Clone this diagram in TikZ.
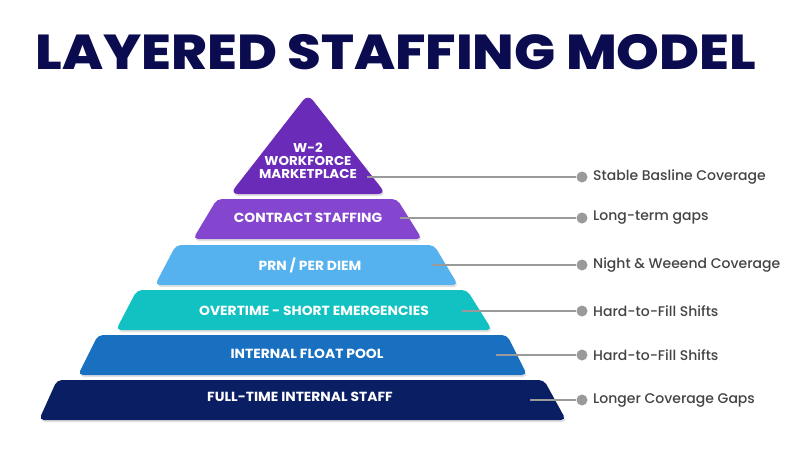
\documentclass[tikz,border=0pt]{standalone}
\usepackage{fontspec}
\setmainfont{Poppins}
\newfontfamily\titlefont{Poppins ExtraBold}
\newfontfamily\layerfont{Poppins Bold}[FakeStretch=1.05]
\newfontfamily\labelfont{Poppins Medium}
\definecolor{titlecol}{HTML}{0B0B4F}
\definecolor{cW}{HTML}{6A2CB8}
\definecolor{cC}{HTML}{8445CF}
\definecolor{cP}{HTML}{56B2EE}
\definecolor{cO}{HTML}{12C2C2}
\definecolor{cF}{HTML}{1A70C0}
\definecolor{cT}{HTML}{0A1E63}
\definecolor{conncol}{HTML}{9A9A9A}
\definecolor{labcol}{HTML}{444444}
\tikzset{
  layertext/.style={text=white, font=\layerfont\fontsize{13.2}{11.5}\selectfont, inner sep=0pt, align=center},
  dot/.style={circle, fill=conncol, minimum size=11pt, inner sep=0pt},
  conn/.style={draw=conncol, line width=2.5pt},
  sidelabel/.style={text=labcol, font=\labelfont\fontsize{14}{14}\selectfont, anchor=west, inner sep=0pt},
  layer/.style={rounded corners=5pt},
  shade/.style={fill=black, opacity=0.12}
}
\begin{document}
\begin{tikzpicture}[x=1pt, y=-1pt]
\useasboundingbox (0,0) rectangle (800,450);
% title
\node[anchor=base, inner sep=0pt, text=titlecol, font=\titlefont\fontsize{49}{49}\selectfont] (title) at (396,69) {\scalebox{1.11}[1]{LAYERED STAFFING MODEL}};
% shadows
\begin{scope}[shift={(1,2)}]
\fill[shade, rounded corners=8pt] (230,194) -- (308,94) -- (386,194) -- cycle;
\fill[shade, layer] (193,239) -- (217,199) -- (397,199) -- (422,239) -- cycle;
\fill[shade, layer] (155,285) -- (176,245) -- (434,245) -- (458,285) -- cycle;
\fill[shade, layer] (116,330) -- (137,290) -- (467,290) -- (492,330) -- cycle;
\fill[shade, layer] (78,375) -- (98,335) -- (507,335) -- (527,375) -- cycle;
\fill[shade, layer] (39,420) -- (57,380) -- (544,380) -- (566,420) -- cycle;
\end{scope}
% layers
\fill[cW, rounded corners=8pt] (230,194) -- (308,94) -- (386,194) -- cycle;
\fill[cC, layer] (193,239) -- (217,199) -- (397,199) -- (422,239) -- cycle;
\fill[cP, layer] (155,285) -- (176,245) -- (434,245) -- (458,285) -- cycle;
\fill[cO, layer] (116,330) -- (137,290) -- (467,290) -- (492,330) -- cycle;
\fill[cF, layer] (78,375) -- (98,335) -- (507,335) -- (527,375) -- cycle;
\fill[cT, layer] (39,420) -- (57,380) -- (544,380) -- (566,420) -- cycle;
% layer texts
\node[layertext, font=\layerfont\fontsize{12.8}{13}\selectfont] (tW) at (308,161) {W-2\\WORKFORCE\\MARKETPLACE};
\node[layertext] (tC) at (308,218) {CONTRACT STAFFING};
\node[layertext] (tP) at (310,265) {PRN / PER DIEM};
\node[layertext] (tO) at (314,311) {OVERTIME - SHORT EMERGENCIES};
\node[layertext] (tF) at (307,354) {INTERNAL FLOAT POOL};
\node[layertext] (tT) at (300,397) {FULL-TIME INTERNAL STAFF};
% connectors
\coordinate (s1) at (367,177);
\coordinate (s2) at (400,218);
\coordinate (s3) at (432,265);
\coordinate (s4) at (462,311);
\coordinate (s5) at (496,355);
\coordinate (s6) at (530,400);
\node[dot] (d1) at (582,177) {};
\node[dot] (d2) at (582,218) {};
\node[dot] (d3) at (582,265) {};
\node[dot] (d4) at (582,311) {};
\node[dot] (d5) at (582,355) {};
\node[dot] (d6) at (582,400) {};
\draw[conn] (s1) -- (d1);
\draw[conn] (s2) -- (d2);
\draw[conn] (s3) -- (d3);
\draw[conn] (s4) -- (d4);
\draw[conn] (s5) -- (d5);
\draw[conn] (s6) -- (d6);
\node[sidelabel] (l1) at (593,177) {Stable Basline Coverage};
\node[sidelabel] (l2) at (593,218) {Long-term gaps};
\node[sidelabel] (l3) at (593,265) {Night \& Weeend Coverage};
\node[sidelabel] (l4) at (593,311) {Hard-to-Fill Shifts};
\node[sidelabel] (l5) at (593,355) {Hard-to-Fill Shifts};
\node[sidelabel] (l6) at (593,400) {Longer Coverage Gaps};
\end{tikzpicture}
\end{document}
